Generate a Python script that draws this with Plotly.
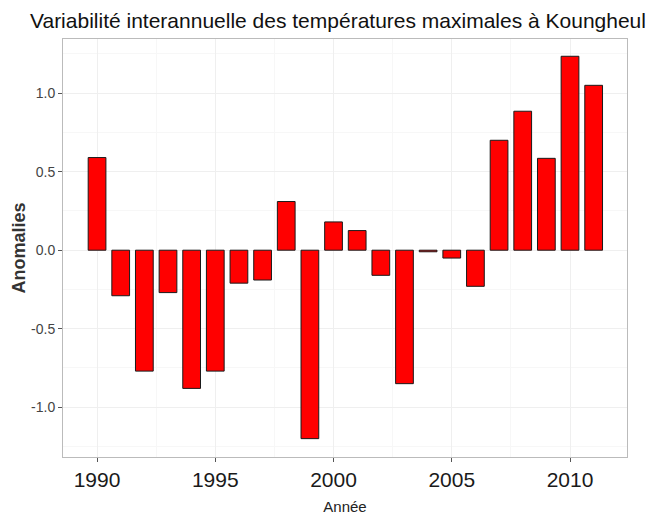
import plotly.graph_objects as go

years = list(range(1990, 2012))
anomalies = [0.59, -0.29, -0.77, -0.27, -0.88, -0.77, -0.21, -0.19, 0.31, -1.20,
             0.18, 0.125, -0.16, -0.85, -0.01, -0.05, -0.23, 0.70, 0.885, 0.585,
             1.235, 1.05]
x_ticks = [1990, 1995, 2000, 2005, 2010]
y_ticks = [-1.0, -0.5, 0.0, 0.5, 1.0]
y_ticktext = ["-1.0", "-0.5", "0.0", "0.5", "1.0"]

FONT = "Liberation Sans, Arial, sans-serif"

fig = go.Figure()
fig.add_trace(go.Bar(
    x=years, y=anomalies, width=0.75,
    marker=dict(color="#FF0000", line=dict(color="#1a1a1a", width=1)),
))

grid_major = "#efefef"
grid_minor = "#f7f7f7"
fig.update_layout(
    width=652, height=517,
    margin=dict(l=63, r=25, t=39, b=60),
    paper_bgcolor="white", plot_bgcolor="white",
    showlegend=False,
    title=dict(text="Variabilité interannuelle des températures maximales à Koungheul",
               x=30/652, xanchor="left", xref="container",
               y=1 - 21/517, yanchor="middle", yref="container",
               font=dict(family=FONT, size=21, color="#111111")),
    font=dict(family=FONT),
)
fig.update_xaxes(
    range=[1988.56, 2012.41], tickvals=x_ticks, automargin=False,
    ticks="outside", ticklen=4, tickcolor="#555555", tickwidth=1,
    tickfont=dict(size=21, color="#1a1a1a"),
    showgrid=True, gridcolor=grid_major, gridwidth=1,
    minor=dict(dtick=2.5, tick0=1987.5, showgrid=True, gridcolor=grid_minor, ticks=""),
    showline=True, linecolor="#bbbbbb", linewidth=1, mirror=True,
    zeroline=False,
    title=dict(text="Année", font=dict(size=15, color="#222222"), standoff=11),
)
fig.update_yaxes(
    range=[-1.317, 1.345], tickvals=y_ticks, ticktext=y_ticktext, automargin=False,
    ticks="outside", ticklen=4, tickcolor="#555555", tickwidth=1,
    tickfont=dict(size=14, color="#444444"),
    showgrid=True, gridcolor=grid_major, gridwidth=1,
    minor=dict(dtick=0.25, tick0=0.25, showgrid=True, gridcolor=grid_minor, ticks=""),
    showline=True, linecolor="#bbbbbb", linewidth=1, mirror=True,
    zeroline=False,
    title=dict(text="<b>Anomalies</b>", font=dict(size=18, color="#333333"), standoff=0),
)

fig.write_html("out.html", config={"displayModeBar": False},
               post_script="document.body.style.margin='0';")
